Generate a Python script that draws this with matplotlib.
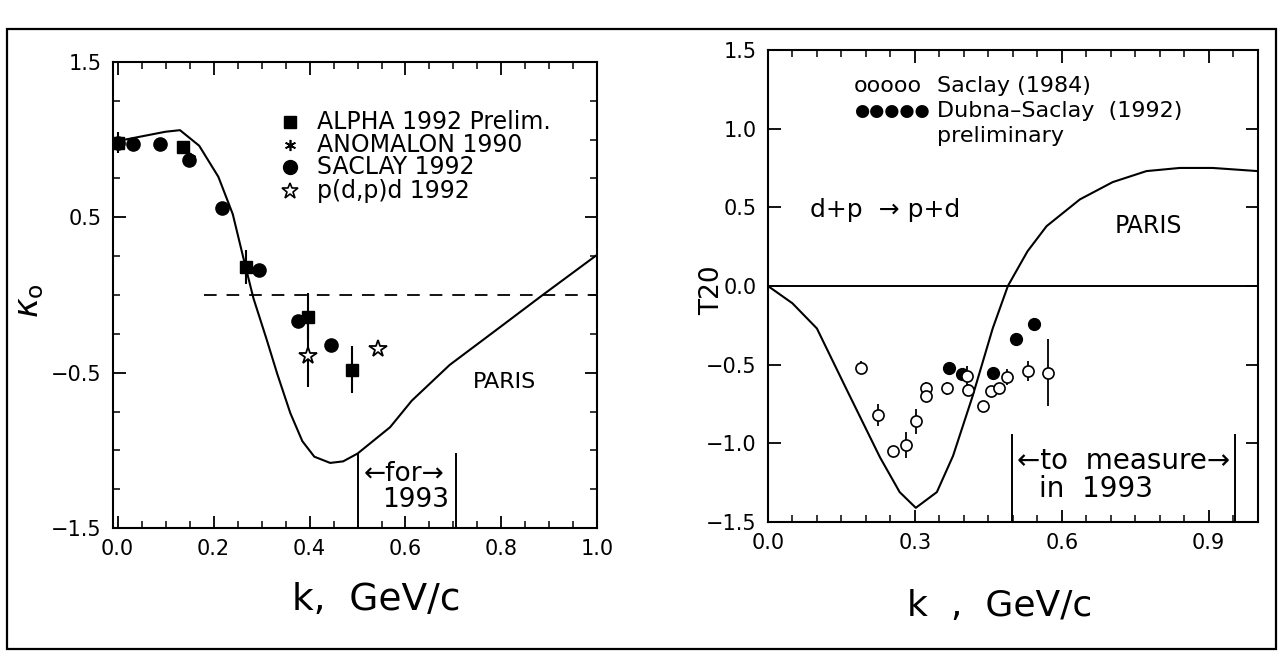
import numpy as np
import matplotlib
matplotlib.use("Agg")
import matplotlib.pyplot as plt
from matplotlib.ticker import MultipleLocator, FixedLocator, FuncFormatter
from matplotlib.patches import Rectangle

plt.rcParams['font.family'] = ['DejaVu Sans']

# ---- left panel: kappa_0 vs k ----
paris_k_left = [0.0, 0.05, 0.10, 0.13, 0.17, 0.21, 0.24, 0.262, 0.283, 0.31, 0.333,
                0.36, 0.385, 0.41, 0.443, 0.47, 0.50, 0.568, 0.613, 0.692, 0.80, 0.886, 1.0]
paris_y_left = [0.99, 1.02, 1.05, 1.06, 0.96, 0.76, 0.52, 0.24, -0.02, -0.28, -0.51,
                -0.76, -0.94, -1.04, -1.08, -1.07, -1.02, -0.85, -0.68, -0.45, -0.20, 0.0, 0.26]

alpha_k = [0.0, 0.137, 0.268, 0.397, 0.489]
alpha_y = [0.98, 0.95, 0.18, -0.14, -0.48]
alpha_err = [0.07, 0.03, 0.11, 0.15, 0.15]

anomalon_k = [0.150]
anomalon_y = [0.88]

saclay92_k = [0.0, 0.033, 0.089, 0.148, 0.218, 0.295, 0.377, 0.445]
saclay92_y = [0.98, 0.97, 0.97, 0.87, 0.56, 0.16, -0.17, -0.32]
saclay92_err = [0.02, 0.02, 0.02, 0.05, 0.02, 0.02, 0.02, 0.04]

pdp_k = [0.397, 0.543]
pdp_y = [-0.39, -0.35]
pdp_err = [0.2, 0.0]

# ---- right panel: T20 vs k ----
paris_k_right = [0.0, 0.05, 0.10, 0.161, 0.229, 0.269, 0.302, 0.345, 0.378, 0.418, 0.459,
                 0.49, 0.53, 0.569, 0.637, 0.704, 0.773, 0.841, 0.908, 1.0]
paris_y_right = [0.0, -0.11, -0.27, -0.66, -1.09, -1.31, -1.41, -1.31, -1.08, -0.70, -0.27,
                 0.0, 0.22, 0.38, 0.55, 0.66, 0.73, 0.75, 0.75, 0.73]

saclay84_k = [0.190, 0.224, 0.255, 0.281, 0.302, 0.322, 0.322, 0.365, 0.406, 0.408,
              0.439, 0.455, 0.471, 0.488, 0.531, 0.571]
saclay84_y = [-0.52, -0.82, -1.05, -1.01, -0.86, -0.65, -0.70, -0.65, -0.57, -0.66,
              -0.76, -0.67, -0.65, -0.58, -0.54, -0.55]
saclay84_err = [0.04, 0.07, 0.03, 0.085, 0.08, 0.04, 0.04, 0.04, 0.06, 0.04,
                0.03, 0.03, 0.03, 0.05, 0.065, 0.21]

dubna_k = [0.369, 0.396, 0.459, 0.506, 0.543]
dubna_y = [-0.52, -0.56, -0.55, -0.34, -0.24]


def fmt(v, pos):
    return ('%.1f' % v).replace('-', '−')


fig = plt.figure(figsize=(12.82, 6.57), dpi=100)
fig.patches.append(Rectangle((0.0055, 0.012), 0.9898, 0.944, transform=fig.transFigure,
                             fill=False, edgecolor='black', linewidth=1.6))

ax1 = fig.add_axes([0.088, 0.196, 0.378, 0.710])
ax2 = fig.add_axes([0.599, 0.2055, 0.382, 0.7185])

for ax in (ax1, ax2):
    for s in ax.spines.values():
        s.set_linewidth(1.5)
    ax.tick_params(which='both', direction='in', top=True, right=True, labelsize=15, pad=8)
    ax.tick_params(which='major', length=9, width=1.3)
    ax.tick_params(which='minor', length=5, width=1.1)

# left
ax1.plot(paris_k_left, paris_y_left, color='black', lw=1.5)
ax1.plot([0.18, 1.0], [0.0, 0.0], color='black', lw=1.3, dashes=(7, 5.5))
ax1.errorbar(alpha_k, alpha_y, yerr=alpha_err, fmt='s', ms=8.5, color='black', ecolor='black', elinewidth=1.5, capsize=0)
ax1.errorbar(saclay92_k, saclay92_y, yerr=saclay92_err, fmt='o', ms=9.5, color='black', ecolor='black', elinewidth=1.5, capsize=0)
ax1.errorbar(pdp_k, pdp_y, yerr=pdp_err, fmt='*', ms=13, mfc='white', mec='black', mew=1.3, ecolor='black', elinewidth=1.5, capsize=0)
ax1.plot(anomalon_k, anomalon_y, marker=(6, 2, 0), ms=8, color='black', mew=1.2, ls='none')

ax1.plot([0.5, 0.5], [-1.02, -1.5], color='black', lw=1.4)
ax1.plot([0.705, 0.705], [-1.02, -1.5], color='black', lw=1.4)
ax1.text(0.597, -1.15, '←for→', ha='center', va='center', fontsize=19)
ax1.text(0.622, -1.32, '1993', ha='center', va='center', fontsize=19)
ax1.text(0.807, -0.56, 'PARIS', ha='center', va='center', fontsize=16)

leg_x, txt_x = 0.36, 0.415
ax1.plot(leg_x, 1.11, 's', ms=8.5, color='black')
ax1.plot(leg_x, 0.965, marker=(6, 2, 0), ms=8, color='black', mew=1.2)
ax1.plot(leg_x, 0.82, 'o', ms=10, color='black')
ax1.plot(leg_x, 0.67, '*', ms=12, mfc='white', mec='black', mew=1.2)
for yy, t in zip([1.11, 0.965, 0.82, 0.67],
                 ['ALPHA 1992 Prelim.', 'ANOMALON 1990', 'SACLAY 1992', 'p(d,p)d 1992']):
    ax1.text(txt_x, yy, t, ha='left', va='center', fontsize=17)

ax1.set_xlim(-0.01, 1.0)
ax1.set_ylim(-1.5, 1.5)
ax1.xaxis.set_major_locator(MultipleLocator(0.2))
ax1.xaxis.set_minor_locator(MultipleLocator(0.05))
ax1.xaxis.set_major_formatter(FuncFormatter(fmt))
ax1.yaxis.set_major_locator(FixedLocator([-1.5, -0.5, 0.5, 1.5]))
ax1.yaxis.set_minor_locator(MultipleLocator(0.25))
ax1.yaxis.set_major_formatter(FuncFormatter(fmt))

# right
ax2.plot(paris_k_right, paris_y_right, color='black', lw=1.5)
ax2.axhline(0.0, color='black', lw=1.4)
ax2.errorbar(saclay84_k, saclay84_y, yerr=saclay84_err, fmt='o', ms=8, mfc='white', mec='black', mew=1.2,
             ecolor='black', elinewidth=1.3, capsize=0)
ax2.plot(dubna_k, dubna_y, 'o', ms=8.5, color='black', ls='none')

ax2.plot([0.498, 0.498], [-0.95, -1.5], color='black', lw=1.4)
ax2.plot([0.954, 0.954], [-0.95, -1.5], color='black', lw=1.4)
ax2.text(0.508, -1.11, '←to  measure→', ha='left', va='center', fontsize=20)
ax2.text(0.553, -1.29, 'in  1993', ha='left', va='center', fontsize=20)
ax2.text(0.776, 0.38, 'PARIS', ha='center', va='center', fontsize=17)
ax2.text(0.086, 0.48, 'd+p  → p+d', ha='left', va='center', fontsize=18)

ax2.text(0.176, 1.27, 'ooooo', ha='left', va='center', fontsize=16)
ax2.text(0.345, 1.27, 'Saclay (1984)', ha='left', va='center', fontsize=16)
ax2.text(0.176, 1.11, '●●●●●', ha='left', va='center', fontsize=12.5)
ax2.text(0.345, 1.11, 'Dubna–Saclay  (1992)', ha='left', va='center', fontsize=16)
ax2.text(0.345, 0.955, 'preliminary', ha='left', va='center', fontsize=16)

ax2.set_xlim(0.0, 1.0)
ax2.set_ylim(-1.5, 1.5)
ax2.xaxis.set_major_locator(MultipleLocator(0.3))
ax2.xaxis.set_minor_locator(MultipleLocator(0.05))
ax2.xaxis.set_major_formatter(FuncFormatter(fmt))
ax2.yaxis.set_major_locator(MultipleLocator(0.5))
ax2.yaxis.set_major_formatter(FuncFormatter(fmt))

# axis titles
fig.text(0.2933, 0.0868, 'k,  GeV/c', ha='center', va='center', fontsize=27)
fig.text(0.78, 0.0776, 'k  ,  GeV/c', ha='center', va='center', fontsize=26)
fig.text(0.0234, 0.543, r'$\kappa_{\rm o}$', ha='center', va='center', fontsize=24, rotation=90)
fig.text(0.5554, 0.5586, 'T20', ha='center', va='center', fontsize=19, rotation=90)

fig.savefig('out.png', dpi=100, facecolor='white')
